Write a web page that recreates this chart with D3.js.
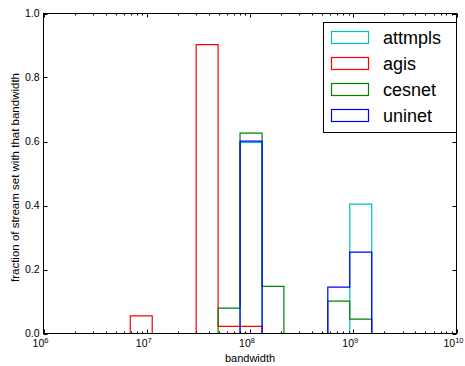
<!DOCTYPE html>
<meta charset="utf-8" />
<title>bandwidth histogram</title>
<style>
  body { margin: 0; background: #fff; }
  text { font-family: "Liberation Sans", Arial, sans-serif; fill: #000; }
  .hist { fill: none; stroke-width: 1.2; }
</style>
<body>
<script src="https://d3js.org/d3.v7.min.js"></script>
<script>
// bin edges (bits/s)
var binEdges = [6.93e6, 1.13e7, 1.84e7, 3.01e7, 4.91e7, 8.01e7, 1.31e8, 2.13e8, 3.48e8, 5.67e8, 9.25e8, 1.51e9];

// fraction per bin, one array per network
var attmpls = [0, 0, 0, 0, 0, 0.597, 0, 0, 0, 0, 0.404];
var agis    = [0.055, 0, 0, 0.903, 0.022, 0.022, 0, 0, 0, 0, 0];
var cesnet  = [0, 0, 0, 0, 0.079, 0.626, 0.147, 0, 0, 0.101, 0.045];
var uninet  = [0, 0, 0, 0, 0, 0.601, 0, 0, 0, 0.145, 0.254];

var seriesNames = ["attmpls", "agis", "cesnet", "uninet"];
var seriesColors = ["#00bfbf", "#ff0000", "#008000", "#0000ff"];
var seriesValues = [attmpls, agis, cesnet, uninet];

var xTicks = [1e6, 1e7, 1e8, 1e9, 1e10];
var yTicks = [0, 0.2, 0.4, 0.6, 0.8, 1.0];

// plot box (note: "top" is reserved on window, so use a prefix)
var W = 465, H = 366;
var pL = 43.5, pR = 456.5, pT = 13.5, pB = 333.5;

var svg = d3.select("body").append("svg")
  .attr("width", W).attr("height", H);

var x = d3.scaleLog().domain([1e6, 1e10]).range([pL, pR]);
var y = d3.scaleLinear().domain([0, 1]).range([pB, pT]);

// histogram outlines (step style)
var line = d3.line().x(function(d) { return x(d[0]); }).y(function(d) { return y(d[1]); });

seriesValues.forEach(function(vals, s) {
  var pts = [[binEdges[0], 0]];
  vals.forEach(function(v, i) {
    pts.push([binEdges[i], v]);
    pts.push([binEdges[i + 1], v]);
  });
  pts.push([binEdges[binEdges.length - 1], 0]);
  svg.append("path")
    .attr("class", "hist")
    .attr("stroke", seriesColors[s])
    .attr("d", line(pts));
});

// frame
svg.append("rect")
  .attr("x", pL).attr("y", pT)
  .attr("width", pR - pL).attr("height", pB - pT)
  .attr("fill", "none").attr("stroke", "#000").attr("stroke-width", 1);

// x ticks: major + minor, inside, bottom and top
var minor = [];
for (var e = 6; e < 10; e++) {
  for (var m = 2; m <= 9; m++) minor.push(m * Math.pow(10, e));
}
var tickG = svg.append("g").attr("stroke", "#000").attr("stroke-width", 1);
xTicks.forEach(function(t) {
  var px = Math.round(x(t)) + 0.5;
  tickG.append("line").attr("x1", px).attr("x2", px).attr("y1", pB).attr("y2", pB - 4);
  tickG.append("line").attr("x1", px).attr("x2", px).attr("y1", pT).attr("y2", pT + 4);
});
minor.forEach(function(t) {
  var px = Math.round(x(t)) + 0.5;
  tickG.append("line").attr("x1", px).attr("x2", px).attr("y1", pB).attr("y2", pB - 2);
  tickG.append("line").attr("x1", px).attr("x2", px).attr("y1", pT).attr("y2", pT + 2);
});
yTicks.forEach(function(t) {
  var py = Math.round(y(t)) + 0.5;
  tickG.append("line").attr("x1", pL).attr("x2", pL + 4).attr("y1", py).attr("y2", py);
  tickG.append("line").attr("x1", pR).attr("x2", pR - 4).attr("y1", py).attr("y2", py);
});

// tick labels
xTicks.forEach(function(t) {
  var lbl = svg.append("text")
    .attr("x", x(t) - 3).attr("y", pB + 13)
    .attr("text-anchor", "middle")
    .style("font-size", "10.5px");
  lbl.append("tspan").text("10");
  lbl.append("tspan").attr("dy", -4).style("font-size", "7.5px").text(Math.round(Math.log10(t)));
});
yTicks.forEach(function(t) {
  svg.append("text")
    .attr("x", pL - 4).attr("y", y(t) + 3)
    .attr("text-anchor", "end")
    .style("font-size", "10.5px")
    .text(d3.format(".1f")(t));
});

// axis labels
svg.append("text")
  .attr("x", (pL + pR) / 2).attr("y", 362)
  .attr("text-anchor", "middle")
  .style("font-size", "11px")
  .text("bandwidth");
svg.append("text")
  .attr("transform", "translate(19," + ((pT + pB) / 2 + 4) + ") rotate(-90)")
  .attr("text-anchor", "middle")
  .style("font-size", "11.5px")
  .text("fraction of stream set with that bandwidth");

// legend
var lg = svg.append("g");
lg.append("rect")
  .attr("x", 323.5).attr("y", 22.5).attr("width", 133).attr("height", 110)
  .attr("fill", "#fff").attr("stroke", "#000").attr("stroke-width", 1);
seriesNames.forEach(function(name, i) {
  var yy = 31 + i * 26;
  lg.append("rect")
    .attr("x", 331.5).attr("y", yy + 0.5).attr("width", 37).attr("height", 12)
    .attr("fill", "none").attr("stroke", seriesColors[i]).attr("stroke-width", 1.2);
  lg.append("text")
    .attr("x", 383).attr("y", yy + 12.5)
    .style("font-size", "18px")
    .text(name);
});
</script>
</body>
